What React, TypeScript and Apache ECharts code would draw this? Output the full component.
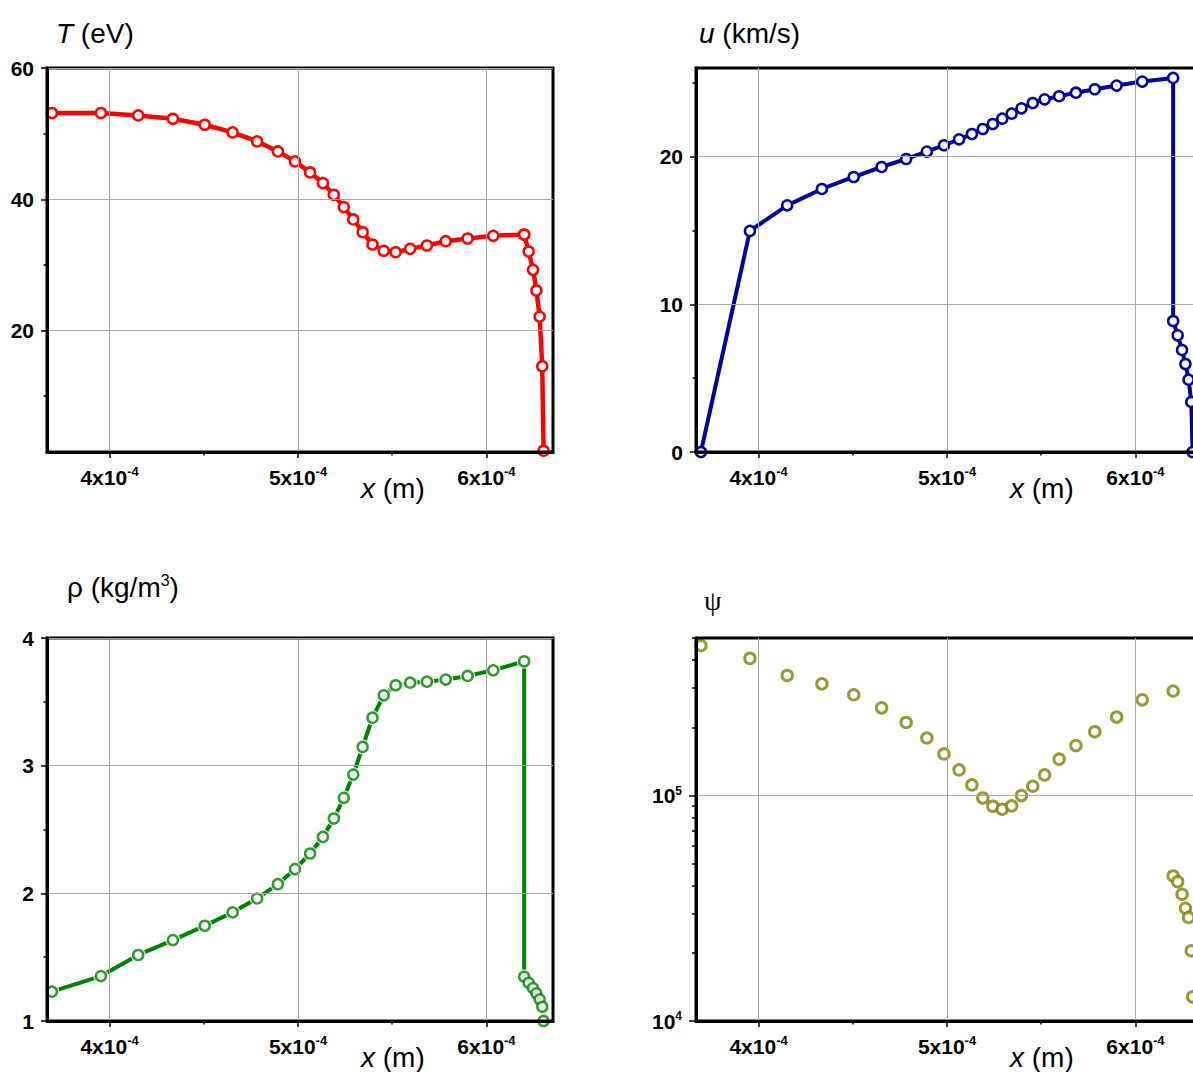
import { useEffect, useRef } from "react";
import * as echarts from "echarts";

// ---- data (x in metres) ----
const X_POS = [
  3.694e-4, 3.954e-4, 4.152e-4, 4.336e-4, 4.505e-4, 4.653e-4, 4.783e-4, 4.893e-4,
  4.984e-4, 5.064e-4, 5.132e-4, 5.19e-4, 5.243e-4, 5.293e-4, 5.343e-4, 5.395e-4,
  5.455e-4, 5.518e-4, 5.595e-4, 5.684e-4, 5.784e-4, 5.9e-4, 6.036e-4, 6.2e-4,
  6.2e-4, 6.224e-4, 6.247e-4, 6.265e-4, 6.282e-4, 6.296e-4, 6.303e-4,
];
const T_EV = [
  53.14, 53.14, 52.78, 52.27, 51.36, 50.19, 48.82, 47.29, 45.77, 44.09, 42.47, 40.69,
  38.81, 36.93, 34.99, 33.11, 32.15, 31.94, 32.45, 32.96, 33.62, 34.03, 34.43, 34.64,
  34.64, 32.05, 29.25, 26.1, 22.13, 14.56, 1.7,
];
const U_KMS = [
  0, 14.97, 16.7, 17.81, 18.62, 19.3, 19.84, 20.34, 20.77, 21.17, 21.53, 21.87, 22.21,
  22.57, 22.91, 23.27, 23.63, 23.88, 24.09, 24.33, 24.56, 24.81, 25.08, 25.33, 8.87,
  7.9, 6.91, 5.96, 4.9, 3.39, 0,
];
const RHO = [
  1.23, 1.352, 1.517, 1.634, 1.746, 1.851, 1.96, 2.072, 2.19, 2.312, 2.442, 2.586, 2.748,
  2.93, 3.147, 3.376, 3.551, 3.63, 3.65, 3.658, 3.674, 3.703, 3.747, 3.818, 1.347, 1.3,
  1.258, 1.217, 1.17, 1.112, 1.0,
];
const PSI = [
  4.63e5, 4.06e5, 3.41e5, 3.13e5, 2.8e5, 2.45e5, 2.11e5, 1.8e5, 1.53e5, 1.3e5, 1.115e5,
  9.76e4, 8.97e4, 8.7e4, 9.0e4, 1.0e5, 1.1e5, 1.235e5, 1.45e5, 1.667e5, 1.92e5, 2.23e5,
  2.66e5, 2.91e5, 4.4e4, 4.15e4, 3.65e4, 3.16e4, 2.88e4, 2.05e4, 1.28e4,
];

const X_TICKS = [4e-4, 5e-4, 6e-4];
const T_TICKS = [20, 40, 60];
const U_TICKS = [0, 10, 20];
const RHO_TICKS = [1, 2, 3, 4];
const PSI_TICKS = [1e4, 1e5];
const PSI_MINOR = [2e4, 3e4, 4e4, 5e4, 6e4, 7e4, 8e4, 9e4, 2e5, 3e5, 4e5, 5e5];

const X_MIN = 3.668e-4;
const X_MAX = 6.353e-4;

const F = "'Liberation Sans', Arial, sans-serif";
const GRID_COLOR = "#a6a6a6";

const pairs = (ys: number[]) => X_POS.map((x, i) => [x, ys[i]]);

export default function App() {
  const ref = useRef<HTMLDivElement>(null);

  useEffect(() => {
    if (!ref.current) return;
    const chart = echarts.init(ref.current, null, { renderer: "svg" });

    const grids = [
      { left: 47, top: 68, width: 506, height: 384 },
      { left: 696, top: 68, width: 506, height: 384 },
      { left: 47, top: 638, width: 506, height: 383 },
      { left: 696, top: 638, width: 506, height: 383 },
    ].map((g) => ({ ...g, show: true, borderColor: "#000", borderWidth: 3, z: 10 }));

    const xAxis = [0, 1, 2, 3].map((gi) => ({
      type: "value",
      gridIndex: gi,
      min: X_MIN,
      max: X_MAX,
      splitNumber: 3,
      position: "bottom",
      z: 10,
      axisLine: { show: true, onZero: false, lineStyle: { color: "#000", width: 3 } },
      axisTick: {
        show: true,
        inside: false,
        length: 6,
        customValues: X_TICKS,
        lineStyle: { color: "#000", width: 1.5 },
      },
      minorTick: { show: true, splitNumber: 2, length: 3.5, lineStyle: { color: "#000", width: 1.5 } },
      axisLabel: {
        customValues: X_TICKS,
        margin: 13,
        formatter: (v: number) => `{b|${Math.round(v * 1e4)}x10}{s|-4}`,
        rich: {
          b: { fontSize: 21, fontWeight: "bold", fontFamily: F, color: "#000", lineHeight: 24 },
          s: {
            fontSize: 13,
            fontWeight: "bold",
            fontFamily: F,
            color: "#000",
            lineHeight: 14,
            verticalAlign: "top",
          },
        },
      },
      splitLine: { show: true, lineStyle: { color: GRID_COLOR, width: 1 } },
    }));

    const yLabel = {
      margin: 13,
      fontSize: 21,
      fontWeight: "bold",
      fontFamily: F,
      color: "#000",
    };
    const yCommon = (gi: number, min: number, max: number, ticks: number[], splitNumber: number) => ({
      type: "value",
      gridIndex: gi,
      min,
      max,
      splitNumber,
      position: "left",
      z: 10,
      axisLine: { show: true, onZero: false, lineStyle: { color: "#000", width: 3 } },
      axisTick: { show: true, inside: false, length: 6, customValues: ticks, lineStyle: { color: "#000", width: 1.5 } },
      minorTick: { show: true, splitNumber: 2, length: 3.5, lineStyle: { color: "#000", width: 1.5 } },
      axisLabel: { ...yLabel, customValues: ticks },
      splitLine: { show: true, lineStyle: { color: GRID_COLOR, width: 1 } },
    });

    const yAxis: any[] = [
      yCommon(0, 1.5, 60, T_TICKS, 3),
      yCommon(1, 0, 26, U_TICKS, 3),
      yCommon(2, 1, 4, RHO_TICKS, 3),
      {
        type: "log",
        logBase: 10,
        gridIndex: 3,
        min: 1e4,
        max: 5e5,
        position: "left",
        z: 10,
        axisLine: { show: true, onZero: false, lineStyle: { color: "#000", width: 3 } },
        axisTick: { show: true, inside: false, length: 7, customValues: PSI_TICKS, lineStyle: { color: "#000", width: 1.5 } },
        axisLabel: {
          customValues: PSI_TICKS,
          margin: 14,
          formatter: (v: number) => `{b|10}{s|${Math.round(Math.log10(v))}}`,
          rich: {
            b: { fontSize: 21, fontWeight: "bold", fontFamily: F, color: "#000", lineHeight: 22 },
            s: { fontSize: 12, fontWeight: "bold", fontFamily: F, color: "#000", lineHeight: 12, verticalAlign: "top" },
          },
        },
        splitLine: { show: true, lineStyle: { color: GRID_COLOR, width: 1 } },
      },
      {
        type: "log",
        logBase: 10,
        gridIndex: 3,
        min: 1e4,
        max: 5e5,
        position: "left",
        z: 10,
        axisLine: { show: false },
        axisTick: { show: true, inside: false, length: 4, customValues: PSI_MINOR, lineStyle: { color: "#000", width: 1.5 } },
        axisLabel: { show: false },
        splitLine: { show: false },
      },
    ];

    const RED = "#ff0000";
    const BLUE = "#0000a0";
    const GREEN = "#008000";
    const OLIVE = "#7f7f00";

    const lineWithMarkers = (gi: number, ys: number[], color: string, lw: number) => ({
      type: "line",
      xAxisIndex: gi,
      yAxisIndex: gi,
      data: pairs(ys),
      symbol: "circle",
      symbolSize: 10,
      showSymbol: true,
      showAllSymbol: true,
      lineStyle: { color, width: lw },
      itemStyle: { color: "#fff", borderColor: color, borderWidth: 2.5 },
      emphasis: { disabled: true },
      z: 3,
    });

    const series: any[] = [
      lineWithMarkers(0, T_EV, RED, 4.5),
      lineWithMarkers(1, U_KMS, BLUE, 4),
      // density: line with gaps around markers
      {
        type: "line",
        xAxisIndex: 2,
        yAxisIndex: 2,
        data: pairs(RHO),
        showSymbol: false,
        symbol: "none",
        lineStyle: { color: GREEN, width: 4 },
        emphasis: { disabled: true },
        z: 2,
      },
      {
        type: "scatter",
        xAxisIndex: 2,
        yAxisIndex: 2,
        data: pairs(RHO),
        symbol: "circle",
        symbolSize: 15,
        itemStyle: { color: "#fff" },
        emphasis: { disabled: true },
        z: 3,
      },
      {
        type: "scatter",
        xAxisIndex: 2,
        yAxisIndex: 2,
        data: pairs(RHO),
        symbol: "circle",
        symbolSize: 10,
        itemStyle: { color: "#fff", borderColor: GREEN, borderWidth: 2.5 },
        emphasis: { disabled: true },
        z: 4,
      },
      {
        type: "scatter",
        xAxisIndex: 3,
        yAxisIndex: 3,
        data: pairs(PSI),
        symbol: "circle",
        symbolSize: 10.5,
        itemStyle: { color: "#fff", borderColor: OLIVE, borderWidth: 3 },
        emphasis: { disabled: true },
        z: 3,
      },
    ];

    const titleText = (x: number, y: number, text: string, rich: any) => ({
      type: "text",
      x,
      y,
      z: 20,
      style: {
        text,
        fontSize: 28,
        fontFamily: F,
        fill: "#000",
        align: "left",
        verticalAlign: "middle",
        rich,
      },
    });
    const rn = { fontSize: 28, fontFamily: F, fill: "#000", color: "#000" };
    const ri = { fontSize: 28, fontFamily: F, fontStyle: "italic", fill: "#000", color: "#000" };
    const rsup = { fontSize: 16, fontFamily: F, fill: "#000", color: "#000", verticalAlign: "top", lineHeight: 16 };

    const graphic = [
      titleText(56, 33, "{i|T}{n| (eV)}", { i: ri, n: rn }),
      titleText(699, 33, "{i|u}{n| (km/s)}", { i: ri, n: rn }),
      titleText(67, 587, "{n|ρ (kg/m}{s|3}{n|)}", { n: { ...rn, lineHeight: 30 }, s: rsup }),
      titleText(704, 600, "{n|ψ}", { n: { ...rn, fontFamily: "'Liberation Serif', serif" } }),
      titleText(361, 488, "{i|x}{n| (m)}", { i: ri, n: rn }),
      titleText(1010, 488, "{i|x}{n| (m)}", { i: ri, n: rn }),
      titleText(361, 1057, "{i|x}{n| (m)}", { i: ri, n: rn }),
      titleText(1010, 1057, "{i|x}{n| (m)}", { i: ri, n: rn }),
    ];

    chart.setOption({
      animation: false,
      backgroundColor: "#fff",
      grid: grids,
      xAxis,
      yAxis,
      series,
      graphic,
    });

    return () => chart.dispose();
  }, []);

  return (
    <div
      style={{
        position: "absolute",
        left: 0,
        top: 0,
        width: 1193,
        height: 1072,
        overflow: "hidden",
        background: "#fff",
      }}
    >
      <div ref={ref} style={{ width: 1215, height: 1072 }} />
    </div>
  );
}
